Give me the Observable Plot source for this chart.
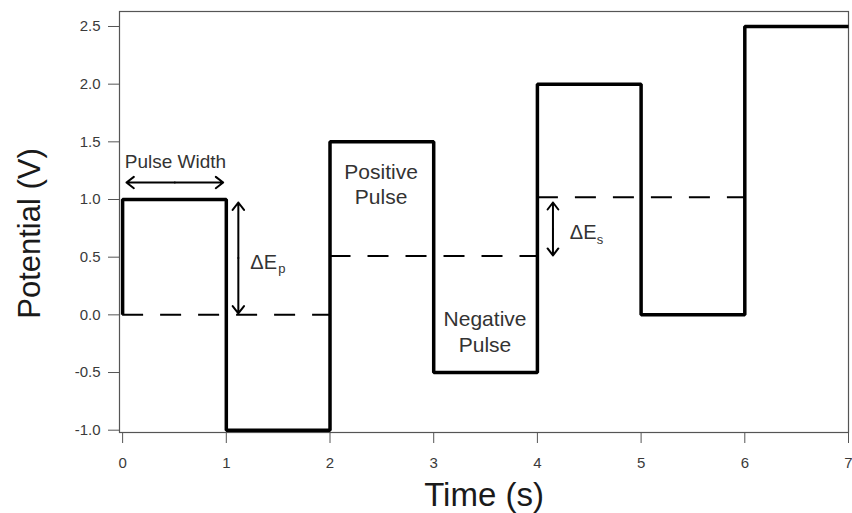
<!DOCTYPE html>
<html><head><meta charset="utf-8">
<script src="https://cdn.jsdelivr.net/npm/d3@7"></script>
<script src="https://cdn.jsdelivr.net/npm/@observablehq/plot@0.6"></script>
<style>
body{margin:0;background:#fff;}
g[aria-label="x-axis tick label"], g[aria-label="y-axis tick label"],
g[aria-label="x-axis tick label"] text, g[aria-label="y-axis tick label"] text {font-size:15px !important;}
</style>
</head><body><div id="chart"></div>
<script>
// Square-wave (pulse) waveform
const pulseTimes  = [0, 0, 1, 2, 3, 4, 5, 6, 7];
const pulseValues = [0, 1, -1, 1.5, -0.5, 2, 0, 2.5, 2.5];
// Dashed staircase (base potential)
const stairStart  = [0, 2, 4];
const stairEnd    = [2, 4, 6];
const stairValues = [0, 0.51, 1.02];
// Tick labels
const xTicks = [0, 1, 2, 3, 4, 5, 6, 7];
const yTicks = [-1.0, -0.5, 0.0, 0.5, 1.0, 1.5, 2.0, 2.5];
const xTitle = "Time (s)";
const yTitle = "Potential (V)";
// Double-headed annotation arrows (tip to tip, data units)
const arrowX1 = [0.037, 1.116, 4.15];
const arrowY1 = [1.147, 0.974, 0.974];
const arrowX2 = [0.97, 1.116, 4.15];
const arrowY2 = [1.147, 0.012, 0.515];
// Annotation labels
const noteText   = ["Pulse Width", "Positive\nPulse", "Negative\nPulse", "ΔE", "p", "ΔE", "s"];
const noteX      = [0.509, 2.493, 3.495, 1.232, 1.501, 4.313, 4.573];
const noteY      = [1.335, 1.141, -0.137, 0.462, 0.407, 0.723, 0.658];
const noteSize   = [19, 21, 21, 20, 13, 20, 13];
const noteAnchor = ["middle", "middle", "middle", "start", "start", "start", "start"];

const pulse = pulseTimes.map((t, i) => ({t, v: pulseValues[i]}));
const stairs = stairValues.map((v, i) => ({t1: stairStart[i], t2: stairEnd[i], v}));
const halves = [];
arrowX1.forEach((x1, i) => {
  const mx = (x1 + arrowX2[i]) / 2, my = (arrowY1[i] + arrowY2[i]) / 2;
  halves.push({x1: mx, y1: my, x2: x1, y2: arrowY1[i]});
  halves.push({x1: mx, y1: my, x2: arrowX2[i], y2: arrowY2[i]});
});
const notes = noteText.map((text, i) => ({text, t: noteX[i], v: noteY[i], size: noteSize[i], anchor: noteAnchor[i]}));

const font = "'Liberation Sans', Arial, Helvetica, sans-serif";
const noteMarks = notes.map(n => Plot.text([n], {
  x: "t", y: "v", text: "text", fontSize: n.size, textAnchor: n.anchor,
  lineHeight: 1.22, fill: "#333"
}));

const chart = Plot.plot({
  width: 852, height: 513,
  marginLeft: 119, marginRight: 4, marginTop: 11, marginBottom: 81,
  style: {fontFamily: font, fontSize: "14px", background: "#fff"},
  x: {domain: [-0.03, 7.0]},
  y: {domain: [-1.02, 2.63]},
  marks: [
    Plot.axisX({ticks: xTicks, tickSize: 11, tickPadding: 14, tickFormat: d => String(d),
      fontSize: 15, stroke: "#555", fill: "#3a3a3a", label: null}),
    Plot.axisY({ticks: yTicks, tickSize: 11, tickPadding: 8, tickFormat: d => d.toFixed(1),
      fontSize: 15, stroke: "#555", fill: "#3a3a3a", label: null}),
    Plot.frame({stroke: "#555", strokeWidth: 1.2}),
    Plot.ruleY(stairs, {y: "v", x1: "t1", x2: "t2", stroke: "#000", strokeWidth: 2, strokeDasharray: "21,17"}),
    Plot.line(pulse, {x: "t", y: "v", curve: "step-after", stroke: "#000", strokeWidth: 3.5,
      strokeLinejoin: "miter", strokeLinecap: "butt"}),
    Plot.arrow(halves, {x1: "x1", y1: "y1", x2: "x2", y2: "y2", stroke: "#000", strokeWidth: 2,
      headLength: 7, headAngle: 75}),
    ...noteMarks,
    Plot.text([xTitle], {text: d => d, frameAnchor: "bottom", dy: 63, fontSize: 33,
      textAnchor: "middle", lineAnchor: "middle", fill: "#1a1a1a"}),
    Plot.text([yTitle], {text: d => d, frameAnchor: "left", dx: -89, dy: 11.5, rotate: -90, fontSize: 31,
      textAnchor: "middle", lineAnchor: "middle", fill: "#1a1a1a"})
  ]
});
document.getElementById("chart").appendChild(chart);
</script>
</body></html>
